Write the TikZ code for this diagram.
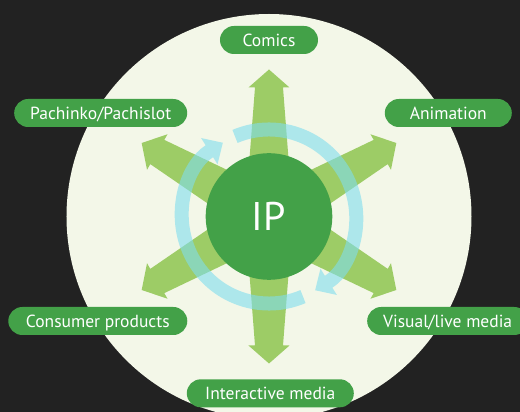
\documentclass[tikz,border=0pt]{standalone}
\usepackage{fontspec}
\setmainfont{PT Sans}
\usepackage{xcolor}
\usepackage{tikz}
\usetikzlibrary{arrows.meta}

\definecolor{darkbg}{HTML}{222222}
\definecolor{palebg}{HTML}{F3F7E8}
\definecolor{ipgreen}{HTML}{43A148}
\definecolor{arrowgreen}{HTML}{9DCC66}
\definecolor{ringcyan}{HTML}{7FDDEE}

\begin{document}
\begin{tikzpicture}[x=1pt, y=1pt,
    tagbox/.style={fill=ipgreen, text=white, rounded corners=14pt, minimum height=28pt,
      inner xsep=0pt, inner ysep=0pt, text height=12.3pt, text depth=0pt,
      font=\fontsize{17.5}{17.5}\selectfont},
    ring/.style={ringcyan, line width=14pt, -{Triangle[width=30pt, length=16pt]}}]
          \fill[darkbg] (-269,-195.5) rectangle (251,216.5);
          \useasboundingbox (-269,-195.5) rectangle (251,216.5);
          \fill[palebg] (0,0) circle (202.5);

          % six arrows out of the centre
          \foreach \a in {30,90,150,210,270,330}
            \fill[arrowgreen, rotate=\a] (0,24) -- (129,14) -- (129,20.5) -- (147,0)
              -- (129,-20.5) -- (129,-14) -- (0,-24) -- cycle;

          % cycle ring
          \begin{scope}[transparency group, opacity=0.6]
            \draw[ring] (113:87) arc[start angle=113, end angle=-58, radius=87];
            \draw[ring] (-67:87) arc[start angle=-67, end angle=-238, radius=87];
          \end{scope}

          \node[circle, fill=ipgreen, minimum size=126.6pt, inner sep=0pt, text=white,
            font=\fontsize{40}{40}\selectfont] (ip) at (0,0) {IP};

          \node[tagbox, minimum width=98pt] (comics) at (0,176.5) {Comics};
          \node[tagbox, minimum width=173pt] (pachinko) at (-168.3,103.5) {Pachinko/Pachislot};
          \node[tagbox, minimum width=127pt] (anime) at (179.3,103.5) {Animation};
          \node[tagbox, minimum width=179pt] (goods) at (-171.2,-104.5) {Consumer products};
          \node[tagbox, minimum width=161pt] (visual) at (178.7,-104.5) {Visual/live media};
          \node[tagbox, minimum width=167pt] (games) at (1.3,-176.8) {Interactive media};
        \end{tikzpicture}
\end{document}
